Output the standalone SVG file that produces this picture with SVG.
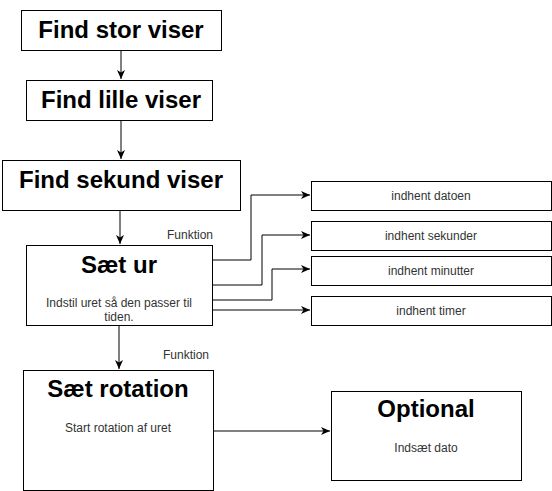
<svg xmlns="http://www.w3.org/2000/svg" width="552" height="491" viewBox="0 0 552 491">
<style>
.box{fill:#fff;stroke:#000;stroke-width:1}
.title{font-family:"Liberation Sans",Arial,sans-serif;font-weight:bold;font-size:24px;fill:#000;text-anchor:middle}
.small{font-family:"Liberation Sans",Arial,sans-serif;font-size:12px;fill:#333;text-anchor:middle}
.edge{fill:none;stroke:#000;stroke-width:1}
</style>
<defs>
<marker id="arr" markerWidth="10" markerHeight="8" refX="9" refY="4" orient="auto" markerUnits="userSpaceOnUse">
<path d="M0,0 L9,4 L0,8 L2.5,4 Z" fill="#000"/>
</marker>
</defs>
<rect width="552" height="491" fill="#fff"/>
<g id="connectors">
<path class="edge" d="M121,50 V79" marker-end="url(#arr)"/>
<path class="edge" d="M121,120 V159" marker-end="url(#arr)"/>
<path class="edge" d="M120,210 V244" marker-end="url(#arr)"/>
<path class="edge" d="M119,325 V369" marker-end="url(#arr)"/>
<path class="edge" d="M212,260 H251 V195 H310" marker-end="url(#arr)"/>
<path class="edge" d="M212,285 H262 V235 H310" marker-end="url(#arr)"/>
<path class="edge" d="M212,300 H272 V269 H310" marker-end="url(#arr)"/>
<path class="edge" d="M212,310 H310" marker-end="url(#arr)"/>
<path class="edge" d="M213,431 H330" marker-end="url(#arr)"/>
<text class="small" x="190" y="239">Funktion</text>
<text class="small" x="186" y="359">Funktion</text>
</g>
<g id="find-stor">
<rect class="box" x="21.5" y="10.5" width="200" height="40"/>
<text class="title" x="121" y="38">Find stor viser</text>
</g>
<g id="find-lille">
<rect class="box" x="26.5" y="80.5" width="186" height="40"/>
<text class="title" x="121" y="108">Find lille viser</text>
</g>
<g id="find-sekund">
<rect class="box" x="2.5" y="160.5" width="238" height="50"/>
<text class="title" x="121" y="188">Find sekund viser</text>
</g>
<g id="saet-ur">
<rect class="box" x="26.5" y="245.5" width="186" height="80"/>
<text class="title" x="119" y="273">Sæt ur</text>
<text class="small" x="119" y="307">Indstil uret så den passer til</text>
<text class="small" x="119" y="321">tiden.</text>
</g>
<g id="saet-rotation">
<rect class="box" x="23.5" y="370.5" width="190" height="120"/>
<text class="title" x="118" y="397">Sæt rotation</text>
<text class="small" x="118" y="432">Start rotation af uret</text>
</g>
<g id="optional">
<rect class="box" x="331.5" y="391.5" width="190" height="89"/>
<text class="title" x="426" y="417">Optional</text>
<text class="small" x="426" y="452">Indsæt dato</text>
</g>
<g id="indhent-datoen">
<rect class="box" x="311.5" y="181.5" width="240" height="29"/>
<text class="small" x="431" y="199.5">indhent datoen</text>
</g>
<g id="indhent-sekunder">
<rect class="box" x="311.5" y="221.5" width="240" height="29"/>
<text class="small" x="431" y="239.5">indhent sekunder</text>
</g>
<g id="indhent-minutter">
<rect class="box" x="311.5" y="256.5" width="240" height="29"/>
<text class="small" x="431" y="274.5">indhent minutter</text>
</g>
<g id="indhent-timer">
<rect class="box" x="311.5" y="296.5" width="240" height="29"/>
<text class="small" x="431" y="314.5">indhent timer</text>
</g>
</svg>
